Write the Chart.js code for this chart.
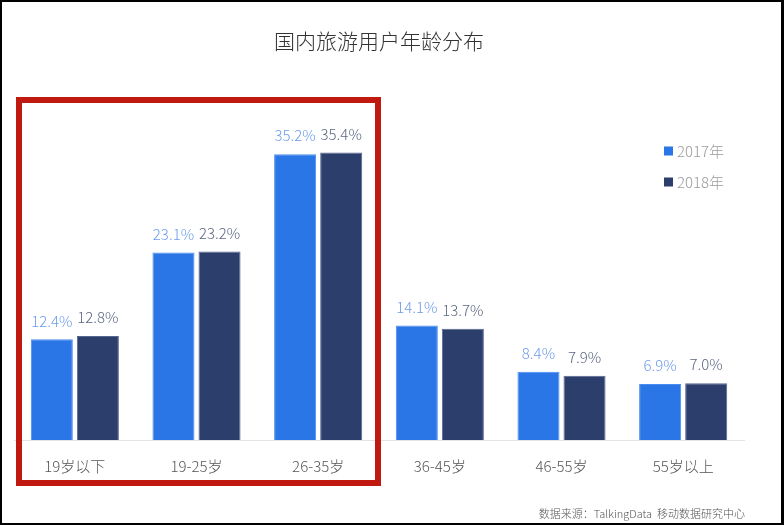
<!DOCTYPE html>
<html>
<head>
<meta charset="utf-8">
<script src="https://cdn.jsdelivr.net/npm/chart.js@4/dist/chart.umd.min.js"></script>
<style>
html,body{margin:0;padding:0;background:#fff;}
#wrap{width:784px;height:525px;position:relative;}
</style>
</head>
<body>
<div id="wrap"><canvas id="c" width="784" height="525"></canvas></div>
<script>
const categories = ['19岁以下', '19-25岁', '26-35岁', '36-45岁', '46-55岁', '55岁以上'];
const values2017 = [12.4, 23.1, 35.2, 14.1, 8.4, 6.9];
const values2018 = [12.8, 23.2, 35.4, 13.7, 7.9, 7.0];
const seriesNames = ['2017年', '2018年'];
const titleText = '国内旅游用户年龄分布';
const sourceText = '数据来源：TalkingData  移动数据研究中心';

const FONT = '"Noto Sans CJK SC", "Noto Sans", sans-serif';
const barColors = ['#2a76e6', '#2c3e6b'];
const barBorders = ['#4a8cf0', '#56678f'];
const labelColors = ['#6d9ceb', '#5d6782'];

const valueLabels = {
  id: 'valueLabels',
  afterDatasetsDraw(chart) {
    const ctx = chart.ctx;
    ctx.save();
    ctx.font = '300 15px ' + FONT;
    ctx.textAlign = 'center';
    ctx.textBaseline = 'bottom';
    chart.data.datasets.forEach((ds, di) => {
      const meta = chart.getDatasetMeta(di);
      ctx.fillStyle = labelColors[di];
      meta.data.forEach((el, i) => {
        ctx.fillText(ds.data[i].toFixed(1) + '%', el.x, el.y - 11);
      });
    });
    ctx.restore();
  }
};

const decorations = {
  id: 'decorations',
  afterDraw(chart) {
    const ctx = chart.ctx;
    ctx.save();
    // legend
    ctx.font = '300 15px ' + FONT;
    ctx.textAlign = 'left';
    ctx.textBaseline = 'middle';
    chart.data.datasets.forEach((ds, di) => {
      const cy = 151 + di * 31;
      ctx.fillStyle = barColors[di];
      ctx.fillRect(664, cy - 4.5, 9, 9);
      ctx.fillStyle = '#9a9a9a';
      ctx.fillText(ds.label, 677, cy);
    });
    // source
    ctx.font = '300 11px ' + FONT;
    ctx.textAlign = 'right';
    ctx.fillStyle = '#555';
    ctx.fillText(sourceText, 745, 514);
    // red highlight box
    ctx.strokeStyle = '#c0190f';
    ctx.lineWidth = 6;
    ctx.strokeRect(19, 100, 359, 383);
    // outer black frame
    ctx.fillStyle = '#000';
    ctx.fillRect(0, 0, 784, 2);
    ctx.fillRect(0, 0, 2, 525);
    ctx.fillRect(0, 523, 784, 2);
    ctx.fillRect(781, 0, 3, 525);
    ctx.restore();
  }
};

new Chart(document.getElementById('c'), {
  type: 'bar',
  data: {
    labels: categories,
    datasets: [
      { label: seriesNames[0], data: values2017, backgroundColor: barColors[0], borderColor: barBorders[0], borderWidth: 1 },
      { label: seriesNames[1], data: values2018, backgroundColor: barColors[1], borderColor: barBorders[1], borderWidth: 1 }
    ]
  },
  options: {
    responsive: false,
    animation: false,
    devicePixelRatio: 1,
    layout: { padding: { left: 14, right: 40, top: 0, bottom: 33 } },
    datasets: { bar: { categoryPercentage: 0.757, barPercentage: 0.913 } },
    plugins: {
      legend: { display: false },
      tooltip: { enabled: false },
      title: {
        display: true,
        text: titleText,
        color: '#333',
        font: { family: FONT, size: 21, weight: 300, lineHeight: 1.2 },
        padding: { top: 28, bottom: 62 }
      }
    },
    scales: {
      x: {
        grid: { display: false, drawTicks: false },
        border: { display: true, color: '#e3e3e3', width: 1 },
        ticks: { color: '#555', font: { family: FONT, size: 15, weight: 300 }, padding: 17 }
      },
      y: {
        display: false,
        min: 0,
        max: 40
      }
    }
  },
  plugins: [valueLabels, decorations]
});
</script>
</body>
</html>
